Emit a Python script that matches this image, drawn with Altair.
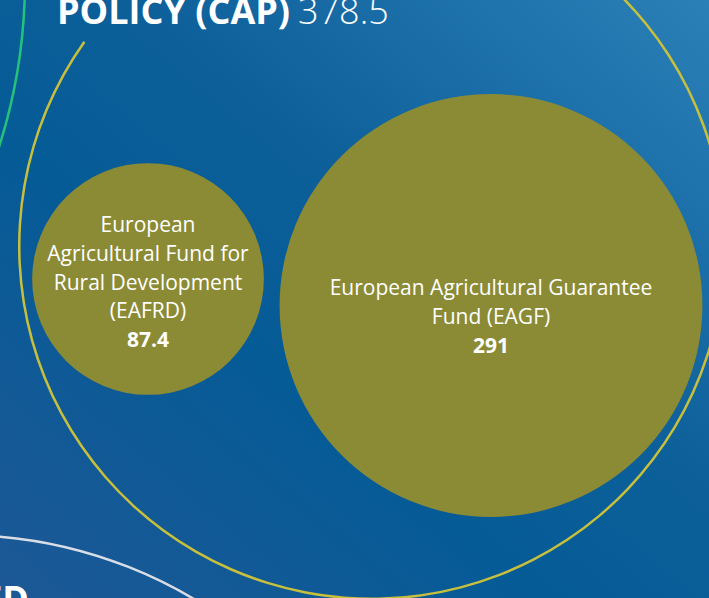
import altair as alt
import pandas as pd

W, H = 709, 598

# ---- data ----
fund_codes = ["EAFRD", "EAGF"]
fund_labels = ["European\nAgricultural Fund for\nRural Development\n(EAFRD)",
               "European Agricultural Guarantee\nFund (EAGF)"]
fund_values = [87.4, 291]
fund_value_text = ["87.4", "291"]

parent_name = "POLICY (CAP)"
parent_value = "378.5"

# ---- layout (circle-packing positions, in view units) ----
fund_cx = [148, 491]
fund_cy = [279, 305.5]
label_first_dy = [-47, -10.5]
LINE_H = 28.8

ring_names = ["CAP", "neighbour_green", "neighbour_white"]
ring_cx = [372, -524, -39]
ring_cy = [246, -20, 990]
ring_r = [354, 549, 455]
ring_colors = ["#c8c03c", "#25c27c", "#d9dee6"]

funds = pd.DataFrame({
    "code": fund_codes, "label": fund_labels, "value": fund_values,
    "vtext": fund_value_text, "cx": fund_cx, "cy": fund_cy,
})
funds["nlines"] = [l.count("\n") + 1 for l in fund_labels]
funds["ly"] = funds["cy"] + pd.Series(label_first_dy)
funds["vy"] = funds["ly"] + funds["nlines"] * LINE_H

rings = pd.DataFrame({"name": ring_names, "cx": ring_cx, "cy": ring_cy,
                      "r": ring_r, "color": ring_colors})
rings["d"] = rings["r"] * 2

xs = alt.Scale(domain=[0, W], range=[0, W])
ys = alt.Scale(domain=[0, H], range=[0, H])
rs = alt.Scale(type="linear", domain=[0, W], range=[0, W], zero=True)

bg = alt.Chart(pd.DataFrame({"a": [0]})).mark_rect(
    color=alt.LinearGradient(
        gradient="linear", x1=1, y1=0, x2=0, y2=1,
        stops=[alt.GradientStop(color="#2c80b8", offset=0),
               alt.GradientStop(color="#0d609a", offset=0.4),
               alt.GradientStop(color="#055b96", offset=0.62),
               alt.GradientStop(color="#1d5896", offset=1)])
).encode(x=alt.value(0), x2=alt.value(W), y=alt.value(0), y2=alt.value(H))

# outer CAP ring (arc with a gap behind the title)
cap_ring = alt.Chart(rings.iloc[[0]]).mark_arc(
    theta=0, theta2=5.33, color="#c8c03c"
).encode(
    x=alt.X("cx:Q", scale=xs, axis=None),
    y=alt.Y("cy:Q", scale=ys, axis=None),
    radius=alt.Radius("r:Q", scale=rs),
    radius2=alt.Radius2("r_in:Q"),
).transform_calculate(r_in="datum.r - 2.5")

other_rings = alt.Chart(rings.iloc[1:]).mark_point(
    shape="circle", filled=False, strokeWidth=2.5, opacity=1
).encode(
    x=alt.X("cx:Q", scale=xs, axis=None),
    y=alt.Y("cy:Q", scale=ys, axis=None),
    size=alt.Size("d:Q", scale=alt.Scale(type="pow", exponent=2, domain=[0, 2000], range=[0, 4000000]), legend=None),
    stroke=alt.Color("color:N", scale=None),
)

bubbles = alt.Chart(funds).mark_point(
    shape="circle", filled=True, color="#8b8b36", opacity=1, strokeWidth=0
).encode(
    x=alt.X("cx:Q", scale=xs, axis=None),
    y=alt.Y("cy:Q", scale=ys, axis=None),
    size=alt.Size("value:Q", scale=alt.Scale(type="linear", domain=[0, 291], range=[0, 422.8 ** 2], zero=True), legend=None),
)

labels = alt.Chart(funds).mark_text(
    font="Open Sans", fontSize=21, color="white", align="center",
    baseline="alphabetic", lineBreak="\n", lineHeight=LINE_H
).encode(
    x=alt.X("cx:Q", scale=xs, axis=None),
    y=alt.Y("ly:Q", scale=ys, axis=None),
    text="label:N",
)

values = alt.Chart(funds).mark_text(
    font="Open Sans", fontSize=21, fontWeight="bold", color="white",
    align="center", baseline="alphabetic"
).encode(
    x=alt.X("cx:Q", scale=xs, axis=None),
    y=alt.Y("vy:Q", scale=ys, axis=None),
    text="vtext:N",
)

title_df = pd.DataFrame({"t": [parent_name], "v": [parent_value], "x": [57], "xv": [298], "y": [24]})
title_bold = alt.Chart(title_df).mark_text(
    font="Open Sans", fontSize=36, fontWeight="bold", color="white",
    align="left", baseline="alphabetic"
).encode(x=alt.X("x:Q", scale=xs, axis=None), y=alt.Y("y:Q", scale=ys, axis=None), text="t:N")
title_val = alt.Chart(title_df).mark_text(
    font="Open Sans", fontSize=36, fontWeight=300, color="white",
    align="left", baseline="alphabetic"
).encode(x=alt.X("xv:Q", scale=xs, axis=None), y=alt.Y("y:Q", scale=ys, axis=None), text="v:N")

bottom_df = pd.DataFrame({"t": ["MANAGED"], "x": [29], "y": [612]})
bottom_text = alt.Chart(bottom_df).mark_text(
    font="Open Sans", fontSize=36, fontWeight="bold", color="white",
    align="right", baseline="alphabetic"
).encode(x=alt.X("x:Q", scale=xs, axis=None), y=alt.Y("y:Q", scale=ys, axis=None), text="t:N")

chart = alt.layer(
    bg, other_rings, cap_ring, bubbles, labels, values, title_bold, title_val, bottom_text
).resolve_scale(size="independent").properties(
    width=W, height=H, padding=0, autosize="none"
).configure_view(strokeWidth=0)

chart.save("out.html", embed_options={"renderer": "svg", "actions": False})
